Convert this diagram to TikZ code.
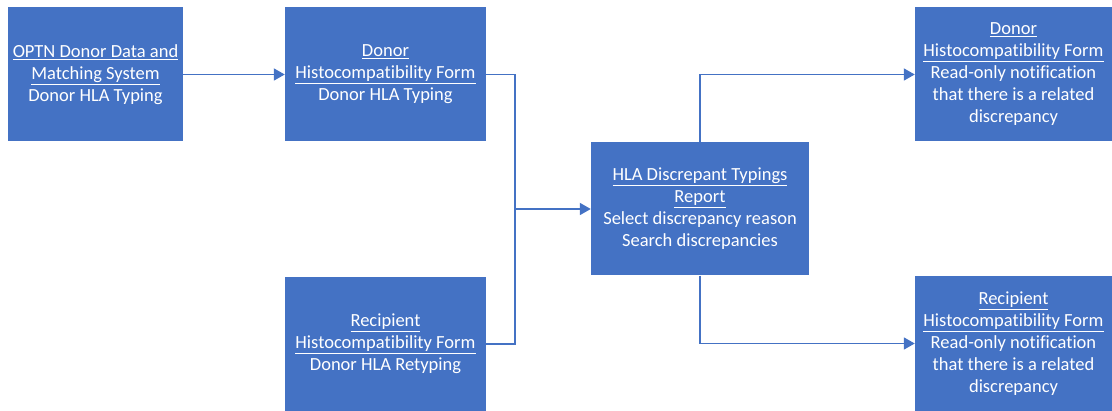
\documentclass[tikz,border=0pt]{standalone}
\usepackage{fontspec}
\setmainfont[Ligatures=NoCommon]{Carlito}
\usepackage{tikz}
\usetikzlibrary{arrows.meta}
\definecolor{officeblue}{HTML}{4472C4}

\begin{document}
\begin{tikzpicture}[x=1pt, y=-1pt,
        box/.style={fill=officeblue, text=white, align=center, inner sep=0pt,
            font=\fontsize{18.5}{22}\selectfont, minimum height=134pt,
            execute at begin node={\rule{0pt}{18pt}}},
        link/.style={draw=officeblue, line width=1.8pt},
        arrow/.style={link, -{Triangle[length=11pt, width=12pt]}}]
    \useasboundingbox (0, 0) rectangle (1112, 411);
    \node[box, minimum width=175pt] (optn) at (95.5, 74.5)
        {\underline{OPTN Donor Data and}\\\underline{Matching System}\\Donor HLA Typing};
    \node[box, minimum width=201pt] (donorform) at (385.5, 74.5)
        {\underline{Donor}\\\underline{Histocompatibility Form}\\Donor HLA Typing};
    \node[box, minimum width=201pt] (recipform) at (385.5, 344)
        {\underline{Recipient}\\\underline{Histocompatibility Form}\\Donor HLA Retyping};
    \node[box, minimum width=218pt, minimum height=133pt] (report) at (700, 209)
        {\underline{HLA Discrepant Typings}\\\underline{Report}\\Select discrepancy reason\\Search discrepancies};
    \node[box, minimum width=197pt] (donornote) at (1013.5, 74.5)
        {\underline{Donor}\\\underline{Histocompatibility Form}\\Read-only notification\\that there is a related\\discrepancy};
    \node[box, minimum width=197pt, minimum height=135pt] (recipnote) at (1013.5, 343.5)
        {\underline{Recipient}\\\underline{Histocompatibility Form}\\Read-only notification\\that there is a related\\discrepancy};
    \coordinate (merge) at (515, 209);
    \draw[arrow] (optn) -- (donorform);
    \draw[link] (donorform.east) -| (merge);
    \draw[link] (recipform.east) -| (merge);
    \draw[arrow] (merge) -- (report.west);
    \draw[arrow] (report.north) |- (donornote.west);
    \draw[arrow] (report.south) |- (recipnote.west);
\end{tikzpicture}
\end{document}
